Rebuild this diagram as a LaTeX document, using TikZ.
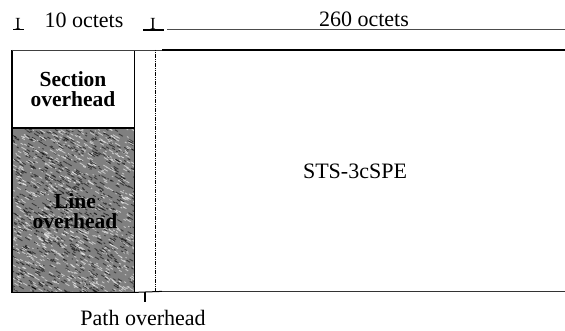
\documentclass[tikz,border=0pt]{standalone}
\usepackage{fontspec}
\setmainfont{Liberation Serif}
\begin{document}
\begin{tikzpicture}[x=1pt,y=-1pt,
  lbl/.style={inner sep=0pt,font=\fontsize{22}{24}\selectfont},
  blbl/.style={inner sep=0pt,align=center,font=\fontsize{21.5}{23}\selectfont\bfseries},
  boxline/.style={line width=1.6pt,draw=black},
  thinline/.style={line width=0.8pt,draw=black!75}]
\useasboundingbox[fill=white] (0,0) rectangle (565,331);
% boxes
\node[draw=none,minimum width=122pt,minimum height=78pt,inner sep=0pt,anchor=north west] (sec) at (12,50) {};
\node[draw=none,fill=black!50,minimum width=122pt,minimum height=164pt,inner sep=0pt,anchor=north west] (lin) at (12,128) {};
\node[draw=none,minimum width=21pt,minimum height=242pt,inner sep=0pt,anchor=north west] (path) at (134,50) {};
\node[draw=none,minimum width=403pt,minimum height=241pt,inner sep=0pt,anchor=north west] (spe) at (162,50) {};
% texture
\pgfmathsetseed{7}
\begin{scope}
\clip (lin.north west) rectangle (lin.south east);
\foreach \i in {1,...,1600}{
  \pgfmathsetmacro{\xx}{12+122*rnd}
  \pgfmathsetmacro{\yy}{128+164*rnd}
  \pgfmathsetmacro{\ll}{1+4*rnd}
  \pgfmathsetmacro{\cc}{rnd>0.5 ? 100 : 0}
  \draw[line width=0.9pt,white!\cc!black,opacity=0.55] (\xx,\yy) -- ++(\ll,0.6*\ll);
}
\end{scope}
% outlines
\draw[boxline] (sec.north west) -- (lin.south west) -- (lin.south east) -- (sec.north east);
\draw[boxline] (lin.north west) -- (lin.north east);
\draw[thinline] (sec.north west) -- (spe.north west);
\draw[line width=0.8pt,dash pattern=on 1.2pt off 0.6pt] (path.north east) -- (path.south east);
\draw[line width=1pt] (lin.south east) -- (spe.south west);
\draw[line width=2pt] (spe.north west) -- (spe.north east);
\draw[line width=1pt,draw=black!80] (spe.south west) -- (spe.south east);
% path overhead tick
\coordinate (tk) at (145,292);
\draw[line width=1.4pt] (tk) -- ++(0,10) coordinate (tkb);
% texts
\node[blbl] (sect) at (73,89) {Section\\[-3pt]overhead};
\node[blbl] (lint) at (75,211) {Line\\[-3pt]overhead};
\node[lbl] (spet) at (355,171) {STS-3cSPE};
\node[lbl,anchor=north] (patht) at (143,310) {Path overhead};
% dimension line
\node[lbl,font=\fontsize{17}{19}\selectfont] (i1) at (18,24) {I};
\draw[line width=1pt] (13,30) -- (24,30);
\node[lbl] (ten) at (84,20) {10 octets};
\node[lbl,font=\fontsize{17}{19}\selectfont] (i2) at (153,24) {I};
\draw[line width=1.4pt] (143,30) -- (164,30);
\coordinate (dl) at (167,30);
\coordinate (dr) at (565,30);
\draw[line width=1pt,draw=black!70] (dl) -- (dr);
\node[lbl] (two) at (364,19) {260 octets};
\end{tikzpicture}
\end{document}
